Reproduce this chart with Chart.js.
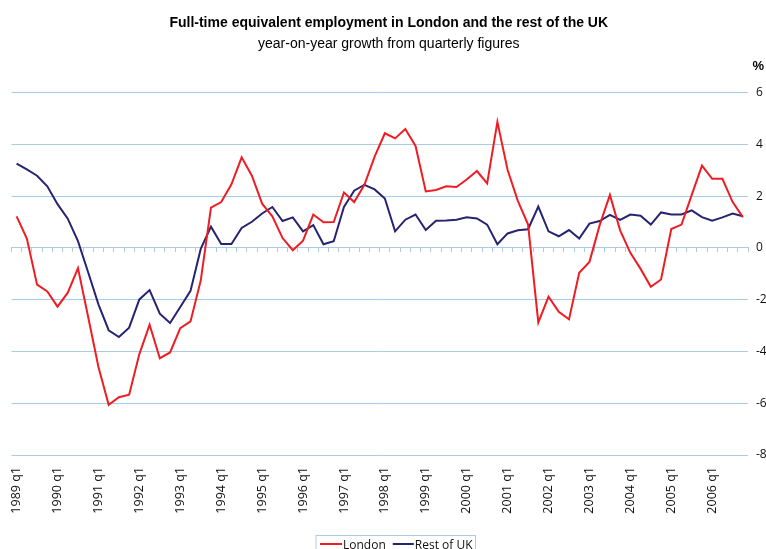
<!DOCTYPE html>
<html>
<head>
<meta charset="utf-8">
<script src="https://cdn.jsdelivr.net/npm/chart.js@4.4.1/dist/chart.umd.min.js"></script>
<style>
    html, body { margin: 0; padding: 0; background: #fff; overflow: hidden; }
    #wrap { position: relative; width: 766px; height: 549px; }
</style>
</head>
<body>
<div id="wrap"><canvas id="employmentChart"></canvas></div>
<script>
// quarterly categories, 1989 q1 .. 2006 q4
const quarters = [
    '1989 q1', '1989 q2', '1989 q3', '1989 q4',
    '1990 q1', '1990 q2', '1990 q3', '1990 q4',
    '1991 q1', '1991 q2', '1991 q3', '1991 q4',
    '1992 q1', '1992 q2', '1992 q3', '1992 q4',
    '1993 q1', '1993 q2', '1993 q3', '1993 q4',
    '1994 q1', '1994 q2', '1994 q3', '1994 q4',
    '1995 q1', '1995 q2', '1995 q3', '1995 q4',
    '1996 q1', '1996 q2', '1996 q3', '1996 q4',
    '1997 q1', '1997 q2', '1997 q3', '1997 q4',
    '1998 q1', '1998 q2', '1998 q3', '1998 q4',
    '1999 q1', '1999 q2', '1999 q3', '1999 q4',
    '2000 q1', '2000 q2', '2000 q3', '2000 q4',
    '2001 q1', '2001 q2', '2001 q3', '2001 q4',
    '2002 q1', '2002 q2', '2002 q3', '2002 q4',
    '2003 q1', '2003 q2', '2003 q3', '2003 q4',
    '2004 q1', '2004 q2', '2004 q3', '2004 q4',
    '2005 q1', '2005 q2', '2005 q3', '2005 q4',
    '2006 q1', '2006 q2', '2006 q3', '2006 q4'
];

// year-on-year growth, %
const london = [
    1.22, 0.36, -1.42, -1.68,
    -2.27, -1.73, -0.78, -2.68,
    -4.60, -6.06, -5.77, -5.67,
    -4.10, -2.97, -4.26, -4.04,
    -3.10, -2.84, -1.26, 1.56,
    1.77, 2.46, 3.50, 2.79,
    1.71, 1.22, 0.38, -0.09,
    0.28, 1.29, 0.99, 1.00,
    2.14, 1.77, 2.44, 3.53,
    4.43, 4.23, 4.59, 3.94,
    2.18, 2.24, 2.38, 2.35,
    2.64, 2.97, 2.49, 4.87,
    3.01, 1.82, 0.90, -2.88,
    -1.88, -2.47, -2.76, -0.96,
    -0.54, 0.88, 2.05, 0.68,
    -0.19, -0.81, -1.50, -1.22,
    0.73, 0.90, 2.05, 3.18,
    2.67, 2.67, 1.77, 1.19
];

const restOfUk = [
    3.26, 3.03, 2.79, 2.38,
    1.69, 1.13, 0.26, -0.95,
    -2.18, -3.18, -3.44, -3.08,
    -1.99, -1.63, -2.54, -2.90,
    -2.28, -1.66, -0.04, 0.82,
    0.15, 0.15, 0.77, 1.01,
    1.33, 1.58, 1.04, 1.18,
    0.64, 0.88, 0.14, 0.26,
    1.58, 2.21, 2.44, 2.26,
    1.91, 0.64, 1.09, 1.29,
    0.69, 1.05, 1.06, 1.09,
    1.18, 1.14, 0.90, 0.14,
    0.56, 0.68, 0.72, 1.60,
    0.64, 0.45, 0.69, 0.36,
    0.94, 1.04, 1.28, 1.08,
    1.29, 1.24, 0.90, 1.37,
    1.29, 1.29, 1.45, 1.19,
    1.05, 1.18, 1.33, 1.22
];

const Y_MIN = -8;
const Y_MAX = 6;
const Y_STEP = 2;

const GRID_COLOR = '#a9cbe8';
const LONDON_COLOR = '#ee1d24';
const REST_COLOR = '#262470';
const TICK_FONT = { family: '"Open Sans", sans-serif', size: 12 };

/**
 * Legend with a thin frame, drawn below the axis labels
 */
const boxedLegend = {
    id: 'boxedLegend',
    afterDraw(chart) {
        const ctx = chart.ctx;
        const left = 316;
        const top = 535.5;
        const midY = 545;
        ctx.save();
        ctx.font = '12px "Open Sans", sans-serif';
        ctx.textBaseline = 'middle';
        ctx.textAlign = 'left';

        let x = left + 4;
        const items = chart.data.datasets.map(ds => ({ label: ds.label, color: ds.borderColor }));
        const positions = [];
        items.forEach((item, idx) => {
            const lineLen = idx === 0 ? 22 : 21;
            positions.push({ item, x, lineLen });
            x += lineLen + 1 + ctx.measureText(item.label).width + 7;
        });
        const right = x - 7 + 3;

        ctx.fillStyle = '#fff';
        ctx.fillRect(left, top, right - left, 30);
        ctx.strokeStyle = GRID_COLOR;
        ctx.lineWidth = 1;
        ctx.strokeRect(left, top, right - left, 30);

        positions.forEach(p => {
            ctx.strokeStyle = p.item.color;
            ctx.lineWidth = 2;
            ctx.beginPath();
            ctx.moveTo(p.x, midY - 1);
            ctx.lineTo(p.x + p.lineLen, midY - 1);
            ctx.stroke();
            ctx.fillStyle = '#111';
            ctx.fillText(p.item.label, p.x + p.lineLen + 1, midY + 1);
        });

        // unit label above the value axis
        ctx.font = 'bold 13px "Liberation Sans", Arial, sans-serif';
        ctx.fillStyle = '#000';
        ctx.fillText('%', 752.5, 66);
        ctx.restore();
    }
};

const ctx = document.getElementById('employmentChart').getContext('2d');

const employmentChart = new Chart(ctx, {
    type: 'line',
    data: {
        labels: quarters,
        datasets: [
            {
                label: 'London',
                data: london,
                borderColor: LONDON_COLOR,
                borderWidth: 2,
                pointRadius: 0,
                tension: 0,
                fill: false
            },
            {
                label: 'Rest of UK',
                data: restOfUk,
                borderColor: REST_COLOR,
                borderWidth: 2,
                pointRadius: 0,
                tension: 0,
                fill: false
            }
        ]
    },
    options: {
        responsive: true,
        maintainAspectRatio: false,
        animation: false,
        layout: {
            padding: { left: 11.5, right: 0, top: 0, bottom: 22 }
        },
        plugins: {
            legend: { display: false },
            tooltip: { enabled: false },
            title: {
                display: true,
                text: 'Full-time equivalent employment in London and the rest of the UK',
                color: '#000',
                font: { family: '"Liberation Sans", Arial, sans-serif', size: 14, weight: 'bold' },
                padding: { top: 15, bottom: 4 }
            },
            subtitle: {
                display: true,
                text: 'year-on-year growth from quarterly figures',
                color: '#000',
                font: { family: '"Liberation Sans", Arial, sans-serif', size: 14 },
                padding: { top: 0, bottom: 40 }
            }
        },
        scales: {
            x: {
                type: 'category',
                position: 'bottom',
                offset: true,
                grid: { display: false },
                border: { display: false },
                ticks: {
                    autoSkip: false,
                    maxRotation: 90,
                    minRotation: 90,
                    padding: 4,
                    color: '#111',
                    font: { family: '"Open Sans", sans-serif', size: 12.5 },
                    callback: function(value) {
                        const label = this.getLabelForValue(value);
                        return label.endsWith('q1') ? label : '';
                    }
                },
                afterFit: function(scale) {
                    scale.height = 72;
                }
            },
            xZero: {
                type: 'category',
                position: { y: 0 },
                offset: true,
                grid: {
                    drawOnChartArea: false,
                    offset: true,
                    drawTicks: true,
                    tickLength: 4,
                    color: GRID_COLOR
                },
                border: { display: true, color: GRID_COLOR, width: 1 },
                ticks: { display: false, autoSkip: false }
            },
            y: {
                position: 'right',
                min: Y_MIN,
                max: Y_MAX,
                grid: { color: GRID_COLOR, drawTicks: false },
                border: { display: false },
                ticks: {
                    stepSize: Y_STEP,
                    padding: 8,
                    color: '#111',
                    font: TICK_FONT
                },
                afterFit: function(scale) {
                    scale.width = 18;
                }
            }
        }
    },
    plugins: [boxedLegend]
});
</script>
</body>
</html>
